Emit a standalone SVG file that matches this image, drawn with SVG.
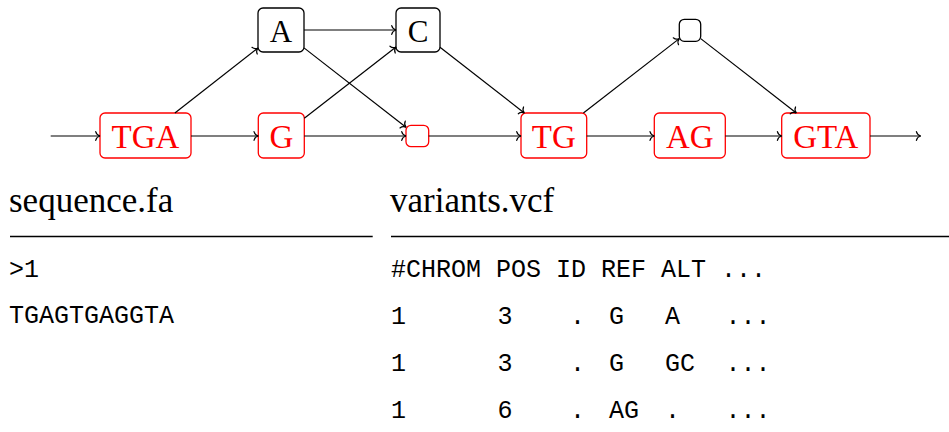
<svg xmlns="http://www.w3.org/2000/svg" width="949" height="432" viewBox="0 0 949 432">
  <defs>
    <marker id="to" markerUnits="userSpaceOnUse" orient="auto" refX="0" refY="0" markerWidth="10" markerHeight="10" overflow="visible">
      <path d="M-4.3,-4.3 C-3.7,-1.7 -1.5,-0.35 0,0 C-1.5,0.35 -3.7,1.7 -4.3,4.3" fill="none" stroke="#000" stroke-width="1.2" stroke-linecap="round"/>
    </marker>
    <style>
      .box { fill: #fff; stroke: #000; stroke-width: 1.3; }
      .ref { fill: #fff; stroke: #ff0000; stroke-width: 1.3; }
      .lbl { font-family: "Liberation Serif", "Times New Roman", serif; font-size: 31px; fill: #000; text-anchor: middle; }
      .rlbl { font-family: "Liberation Serif", "Times New Roman", serif; font-size: 33px; fill: #ff0000; text-anchor: middle; }
      .edge { stroke: #000; stroke-width: 1.2; fill: none; marker-end: url(#to); }
      .title { font-family: "Liberation Serif", "Times New Roman", serif; font-size: 35px; fill: #000; }
      .mono { font-family: "Liberation Mono", "Courier New", monospace; font-size: 25px; fill: #000; }
      .rule { stroke: #000; stroke-width: 1.3; }
    </style>
  </defs>

  <!-- graph nodes -->
  <g id="node-TGA"><rect class="ref" x="100" y="113" width="91" height="45" rx="5"/><text class="rlbl" x="145.5" y="147.7">TGA</text></g>
  <g id="node-G"><rect class="ref" x="258.3" y="113" width="46" height="45" rx="5"/><text class="rlbl" x="281.3" y="147.7">G</text></g>
  <g id="node-A"><rect class="box" x="258" y="8" width="46" height="44" rx="5"/><text class="lbl" x="281" y="41.7">A</text></g>
  <g id="node-C"><rect class="box" x="396" y="8" width="44" height="44" rx="5"/><text class="lbl" x="418" y="41.7">C</text></g>
  <g id="node-empty1"><rect class="ref" x="406" y="125.3" width="22.7" height="21.4" rx="5"/></g>
  <g id="node-TG"><rect class="ref" x="521" y="113" width="65.7" height="45" rx="5"/><text class="rlbl" x="553.8" y="147.7">TG</text></g>
  <g id="node-empty2"><rect class="box" x="679.3" y="19.3" width="21.4" height="22" rx="5"/></g>
  <g id="node-AG"><rect class="ref" x="654.3" y="113" width="71" height="45" rx="5"/><text class="rlbl" x="689.8" y="147.7">AG</text></g>
  <g id="node-GTA"><rect class="ref" x="781.7" y="113" width="88.3" height="45" rx="5"/><text class="rlbl" x="825.8" y="147.7">GTA</text></g>

  <!-- connectors -->
  <g id="edges">
    <line class="edge" x1="50.7" y1="136" x2="100" y2="136"/>
    <line class="edge" x1="191" y1="136" x2="258.3" y2="136"/>
    <line class="edge" x1="174.9" y1="113" x2="258" y2="48"/>
    <line class="edge" x1="304" y1="30" x2="396" y2="30"/>
    <line class="edge" x1="304" y1="47.9" x2="406" y2="127.2"/>
    <line class="edge" x1="304.3" y1="118.2" x2="396" y2="47"/>
    <line class="edge" x1="304.3" y1="136" x2="406" y2="136"/>
    <line class="edge" x1="428.7" y1="136" x2="521" y2="136"/>
    <line class="edge" x1="440" y1="47.2" x2="524.3" y2="113"/>
    <line class="edge" x1="583.4" y1="113" x2="679.3" y2="38.6"/>
    <line class="edge" x1="586.7" y1="136" x2="654.3" y2="136"/>
    <line class="edge" x1="700.7" y1="38.6" x2="796.3" y2="113"/>
    <line class="edge" x1="725.3" y1="136" x2="781.7" y2="136"/>
    <line class="edge" x1="870" y1="136" x2="920.7" y2="136"/>
  </g>

  <!-- sequence file -->
  <g id="fasta">
    <text class="title" x="9" y="212.3">sequence.fa</text>
    <line class="rule" x1="10" y1="236.5" x2="372.7" y2="236.5"/>
    <text class="mono" x="9" y="276.7">&gt;1</text>
    <text class="mono" x="9" y="322.5">TGAGTGAGGTA</text>
  </g>

  <!-- variant file -->
  <g id="vcf">
    <text class="title" x="390" y="212.3">variants.vcf</text>
    <line class="rule" x1="391" y1="236.5" x2="949" y2="236.5"/>
    <text class="mono" x="391" y="276.7" xml:space="preserve">#CHROM POS ID REF ALT ...</text>
    <text class="mono" y="323.5"><tspan x="391">1</tspan><tspan x="497.4">3</tspan><tspan x="570">.</tspan><tspan x="609">G</tspan><tspan x="665">A</tspan><tspan x="725.4">...</tspan></text>
    <text class="mono" y="370.7"><tspan x="391">1</tspan><tspan x="497.4">3</tspan><tspan x="570">.</tspan><tspan x="609">G</tspan><tspan x="665">GC</tspan><tspan x="725.4">...</tspan></text>
    <text class="mono" y="417.5"><tspan x="391">1</tspan><tspan x="497.4">6</tspan><tspan x="570">.</tspan><tspan x="609">AG</tspan><tspan x="665">.</tspan><tspan x="725.4">...</tspan></text>
  </g>
</svg>
